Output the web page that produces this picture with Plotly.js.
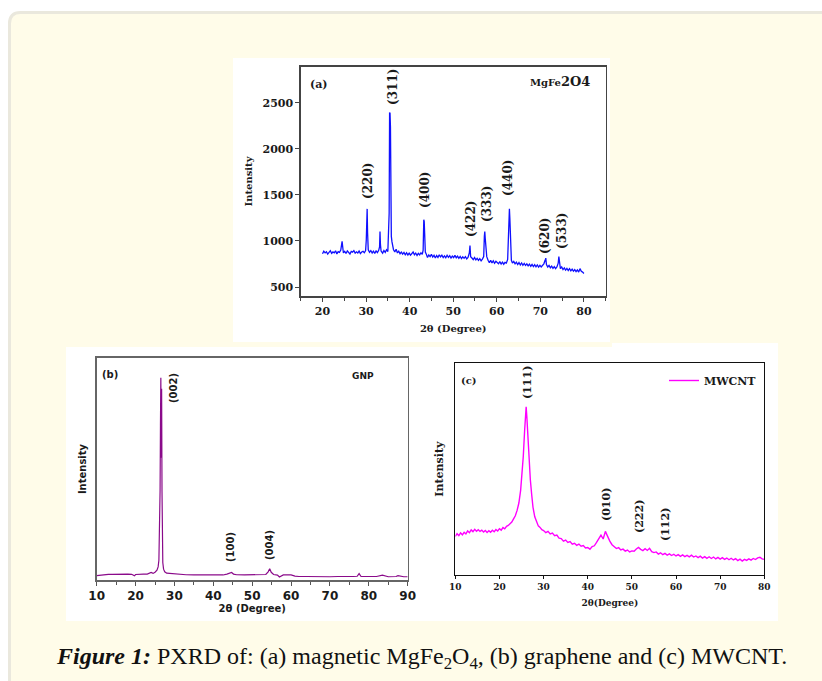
<!DOCTYPE html>
<html><head><meta charset="utf-8">
<script src="https://cdn.plot.ly/plotly-3.0.1.min.js"></script>
<style>html,body{margin:0;padding:0;background:#fff;}#chart{width:822px;height:681px;}</style>
</head><body><div id="chart"></div>
<script>
// ---------- data ----------
const mgfeX=[20.0,20.3,20.6,20.9,21.2,21.5,21.8,22.1,22.4,22.7,23.0,23.3,23.6,23.9,24.2,24.5,24.8,25.1,25.4,25.7,26.0,26.3,26.6,26.9,27.2,27.5,27.8,28.1,28.4,28.7,29.0,29.3,29.6,29.9,
30.05,30.15,30.25,30.35,30.5,30.8,31.1,31.4,31.7,32.0,32.3,32.6,32.9,33.1,33.2,33.3,33.45,33.8,34.1,34.4,34.7,35.0,35.2,35.3,35.4,35.5,35.6,35.7,35.8,35.95,36.1,36.3,36.6,36.9,37.2,37.5,37.8,38.1,38.4,38.7,39.0,39.3,39.6,39.9,40.2,40.5,40.8,41.1,41.4,41.7,42.0,42.3,42.6,42.9,43.1,43.25,43.35,43.45,43.6,43.8,44.1,44.4,44.7,45.0,45.3,45.6,45.9,46.2,46.5,46.8,47.1,47.4,47.7,48.0,48.3,48.6,48.9,49.2,49.5,49.8,50.1,50.4,50.7,51.0,51.3,51.6,51.9,52.2,52.5,52.8,53.1,53.4,53.7,53.85,54.0,54.3,54.6,54.9,55.2,55.5,55.8,56.1,56.4,56.7,57.0,57.15,57.25,57.35,57.5,57.7,58.0,58.3,58.6,58.9,59.2,59.5,59.8,60.1,60.4,60.7,61.0,61.3,61.6,61.9,62.2,62.5,62.65,62.75,62.9,63.0,63.1,63.2,63.35,63.6,63.9,64.2,64.5,64.8,65.1,65.4,65.7,66.0,66.3,66.6,66.9,67.2,67.5,67.8,68.1,68.4,68.7,69.0,69.3,69.6,69.9,70.2,70.5,70.8,71.1,71.25,71.4,71.7,72.0,72.3,72.6,72.9,73.2,73.5,73.8,74.1,74.25,74.4,74.6,74.9,75.2,75.5,75.8,76.1,76.4,76.7,77.0,77.3,77.6,77.9,78.2,78.5,78.8,79.1,79.4,79.7,80.0];
const mgfeY=[862,890,871,884,858,879,895,866,881,872,893,860,885,876,901,995,870,888,864,892,875,859,887,879,896,868,882,870,891,863,880,887,872,895,
1010,1150,1348,1090,905,878,896,870,889,866,893,874,899,935,1103,960,890,868,897,876,905,885,1100,1300,2392,2385,2240,1400,1050,990,930,905,882,910,870,889,862,880,858,876,850,872,848,868,846,862,880,851,869,843,866,849,872,855,900,1230,1210,1080,880,860,820,848,830,855,826,845,815,842,822,850,828,846,820,839,818,845,823,841,815,836,820,844,818,835,812,832,808,828,812,830,806,822,870,951,830,815,798,820,795,812,790,808,785,804,830,1050,1103,1030,960,830,790,765,790,762,784,758,779,770,752,776,750,771,748,768,760,800,1000,1340,1348,1250,1150,900,790,760,778,752,770,745,766,740,762,736,756,734,752,729,748,726,745,722,742,720,740,716,736,718,738,752,790,814,745,718,736,710,728,703,722,700,718,760,832,780,700,718,690,708,684,702,680,700,676,695,672,690,668,686,663,700,670,662,648];

const gnpX=[10,11,12,12.5,13,14,15,16,17,18,19,19.7,20,20.5,21,22,23,23.5,24,24.5,25,25.5,25.8,26.0,26.15,26.3,26.4,26.5,26.6,26.7,26.8,26.9,27.0,27.2,27.5,28,29,30,31,32,33,35,37,39,41,42.5,43.5,44.2,44.7,45.2,46,48,50,52,53.5,54.1,54.5,54.9,55.5,56.5,57,58,59,60,61,62,64,66,68,70,72,74,76,77,77.5,78,80,82,83.5,84,85,87,87.5,89,90];
const gnpY=[2.1,2.3,2.8,2.6,2.7,2.7,2.8,2.7,2.7,2.8,2.7,2.0,2.6,2.7,2.7,2.8,2.8,3.0,3.5,3.1,3.6,4.5,6.0,9,22,40,70,91,55,86,40,14,8,5.0,3.8,3.2,3.0,2.9,2.6,2.5,2.5,2.4,2.4,2.4,2.5,2.4,2.8,3.2,3.5,2.8,2.5,2.4,2.4,2.4,2.6,3.8,5.2,3.6,2.6,2.3,1.5,2.4,2.3,2.4,1.9,1.7,1.7,1.6,1.7,1.6,1.7,1.6,1.7,1.8,3.0,1.7,1.6,1.7,2.3,2.0,1.6,1.7,2.1,1.6,1.6];

const cntX=[10.0,10.4,10.8,11.2,11.6,12.0,12.4,12.8,13.2,13.6,14.0,14.4,14.8,15.2,15.6,16.0,16.4,16.8,17.2,17.6,18.0,18.4,18.8,19.2,19.6,20.0,20.4,20.8,21.2,21.6,22.0,22.4,22.8,23.2,23.6,24.0,24.4,24.8,25.1,25.4,25.7,25.9,26.05,26.2,26.4,26.6,26.8,27.0,27.3,27.6,28.0,28.4,28.8,29.2,29.6,30.0,
30.5,31.0,31.5,32.0,32.5,33.0,33.5,34.0,34.5,35.0,35.5,36.0,36.5,37.0,37.5,38.0,38.5,39.0,39.5,40.0,40.5,41.0,41.5,42.0,42.5,43.0,43.5,44.0,44.3,44.6,45.0,45.5,46.0,46.5,47.0,47.5,48.0,48.5,49.0,49.5,50.0,50.5,51.0,51.5,52.0,52.5,53.0,53.5,54.0,54.5,55.0,55.5,56.0,56.5,57.0,57.5,58.0,58.5,59.0,59.5,60.0,60.5,61.0,61.5,62.0,62.5,63.0,63.5,64.0,64.5,65.0,65.5,66.0,66.5,67.0,67.5,68.0,68.5,69.0,69.5,70.0,70.5,71.0,71.5,72.0,72.5,73.0,73.5,74.0,74.5,75.0,75.5,76.0,76.5,77.0,77.5,78.0,78.5,79.0,79.5,80.0];
const cntY=[18.2,19.5,18.6,19.9,19.0,20.2,19.4,20.8,20.0,21.3,20.5,21.6,20.7,21.4,20.6,21.2,20.3,21.0,20.1,20.9,20.2,21.1,20.4,21.5,20.8,21.9,21.2,22.4,21.8,23.0,23.4,24.3,25.0,26.5,28.0,30.5,34.0,40.0,46.5,56.0,68.0,76.0,79.5,75.0,66.0,57.0,50.0,45.0,38.0,32.0,27.5,25.0,23.2,22.5,21.4,21.0,
20.0,20.6,19.4,19.8,18.6,18.9,17.4,17.2,16.0,16.5,15.4,15.8,14.6,15.0,14.0,14.6,13.6,13.9,12.8,13.0,12.2,13.4,13.8,15.4,17.0,18.8,17.0,20.6,19.2,17.5,16.0,14.3,13.6,12.5,12.9,11.8,12.2,11.3,11.8,10.9,11.4,11.2,12.3,13.0,12.1,11.5,12.4,11.6,12.6,11.0,10.6,10.9,9.9,10.5,9.6,10.2,9.4,10.0,9.2,9.8,9.0,9.6,8.8,9.5,8.7,9.3,8.6,9.4,8.5,9.0,8.2,8.9,8.0,8.7,7.9,8.6,7.8,8.5,7.6,8.3,7.5,8.2,7.4,8.0,7.2,7.9,7.1,7.7,6.8,7.5,6.6,7.4,6.9,7.6,7.0,7.8,7.3,8.1,8.4,7.6,7.4];

const ticksA_x=[20,30,40,50,60,70,80];
const ticksA_y=[500,1000,1500,2000,2500];
const ticksB_x=[10,20,30,40,50,60,70,80,90];
const ticksC_x=[10,20,30,40,50,60,70,80];
const peaksA=['(220)','(311)','(400)','(422)','(333)','(440)','(620)','(533)'];
const peaksB=['(002)','(100)','(004)'];
const peaksC=['(111)','(010)','(222)','(112)'];

// ---------- layout helpers ----------
const W=822,H=681;
const px=v=>v/W, py=v=>1-v/H;
const SERIF='DejaVu Serif', SANS='DejaVu Sans';
const TXT='#1a1a1a';

// label pixel positions (layout)
const posA=[[368,181],[393,87],[425,190],[471,219],[487,204],[508,178],[545,236],[562,231]];
const posB=[[173,388],[230,547],[269,545]];
const posC=[[527,383],[606,505],[639,517],[665,525]];

const traces=[
 {x:mgfeX,y:mgfeY,xaxis:'x',yaxis:'y',type:'scatter',mode:'lines',line:{color:'#1010ff',width:1.3},showlegend:false,name:'MgFe2O4'},
 {x:gnpX,y:gnpY,xaxis:'x2',yaxis:'y2',type:'scatter',mode:'lines',line:{color:'#8a0a8a',width:1.2},showlegend:false,name:'GNP'},
 {x:cntX,y:cntY,xaxis:'x3',yaxis:'y3',type:'scatter',mode:'lines',line:{color:'#ff00ff',width:1.4},showlegend:true,name:'MWCNT'}
];

const ann=[];
function lab(t,p,fam,size,angle){ann.push({text:t,x:px(p[0]),y:py(p[1]),xref:'paper',yref:'paper',showarrow:false,xanchor:'center',yanchor:'middle',textangle:angle||0,font:{family:fam,size:size,color:TXT,weight:'bold'}});}
peaksA.forEach((t,i)=>lab(t,posA[i],SERIF,12,-90));
peaksB.forEach((t,i)=>lab(t,posB[i],SANS,10,-90));
peaksC.forEach((t,i)=>lab(t,posC[i],SERIF,11,-90));
lab('(a)',[319,85],SERIF,11);
lab("MgFe<span style='font-size:13px'>2O4</span>",[560,81],SERIF,10);
lab('(b)',[110,375],SANS,10);
lab('GNP',[363,376],SANS,9);
lab('(c)',[469,380],SERIF,10);
ann.push({text:'<b><i>Figure 1:</i></b> PXRD of: (a) magnetic MgFe<sub>2</sub>O<sub>4</sub>, (b) graphene and (c) MWCNT.',
 x:px(421),y:py(658),xref:'paper',yref:'paper',showarrow:false,xanchor:'center',yanchor:'middle',
 font:{family:'Liberation Serif',size:24,color:'#111'}});

// rounded cream box
const x0=9.5,y0=12.5,x1=840,y1=700,r=11;
const P=(x,y)=>px(x)+','+py(y);
const boxPath='M'+P(x0,y0+r)+' Q'+P(x0,y0)+' '+P(x0+r,y0)+' L'+P(x1,y0)+' L'+P(x1,y1)+' L'+P(x0,y1)+' Z';
const shapes=[
 {type:'path',path:boxPath,xref:'paper',yref:'paper',fillcolor:'#fffce9',line:{color:'#eae8dd',width:3},layer:'below'},
 {type:'rect',xref:'paper',yref:'paper',x0:px(233),x1:px(610),y0:py(58),y1:py(342),fillcolor:'#ffffff',line:{width:0},layer:'below'},
 {type:'rect',xref:'paper',yref:'paper',x0:px(66),x1:px(778),y0:py(347),y1:py(621),fillcolor:'#ffffff',line:{width:0},layer:'below'},
 {type:'rect',xref:'paper',yref:'paper',x0:px(612),x1:px(778),y0:py(343),y1:py(348),fillcolor:'#ffffff',line:{width:0},layer:'below'}
];

const tfA={family:SERIF,size:11,color:TXT,weight:'bold'};
const layout={
 width:W,height:H,margin:{l:0,r:0,t:0,b:0},paper_bgcolor:'#ffffff',plot_bgcolor:'#ffffff',
 shapes:shapes,annotations:ann,
 xaxis:{domain:[px(300.7),px(605.7)],anchor:'y',range:[15,85],tickvals:ticksA_x,ticks:'outside',ticklen:4,tickcolor:'#444',
   minor:{dtick:5,tick0:15,ticks:'outside',ticklen:3,tickcolor:'#444'},showline:true,mirror:true,linecolor:'#444',linewidth:1.3,showgrid:false,zeroline:false,
   tickfont:tfA,title:{text:'2θ (Degree)',font:{family:SERIF,size:10,color:TXT,weight:'bold'},standoff:8}},
 yaxis:{domain:[py(296.3),py(66.7)],anchor:'x',range:[400,2890],tickvals:ticksA_y,ticks:'outside',ticklen:4,tickcolor:'#444',
   showline:true,mirror:true,linecolor:'#444',linewidth:1.3,showgrid:false,zeroline:false,tickfont:tfA,
   title:{text:'Intensity',font:{family:SERIF,size:10,color:TXT,weight:'bold'},standoff:8}},
 xaxis2:{domain:[px(96.7),px(407.7)],anchor:'y2',range:[10,90],tickvals:ticksB_x,ticks:'outside',ticklen:4,tickcolor:'#555',
   minor:{dtick:5,tick0:10,ticks:'outside',ticklen:3,tickcolor:'#555'},showline:true,mirror:true,linecolor:'#666',linewidth:1.3,showgrid:false,zeroline:false,
   tickfont:{family:SANS,size:12,color:TXT,weight:'bold'},title:{text:'2θ (Degree)',font:{family:SANS,size:10,color:TXT,weight:'bold'},standoff:2}},
 yaxis2:{domain:[py(580.3),py(357.7)],anchor:'x2',range:[0,100],showticklabels:false,ticks:'',showline:true,mirror:true,linecolor:'#666',linewidth:1.3,showgrid:false,zeroline:false,
   title:{text:'Intensity',font:{family:SANS,size:10,color:TXT,weight:'bold'},standoff:7}},
 xaxis3:{domain:[px(455.3),px(764.3)],anchor:'y3',range:[10,80],tickvals:ticksC_x,ticks:'outside',ticklen:3,tickcolor:'#111',
   showline:true,mirror:true,linecolor:'#111',linewidth:1,showgrid:false,zeroline:false,
   tickfont:{family:SERIF,size:9,color:TXT,weight:'bold'},title:{text:'2θ(Degree)',font:{family:SERIF,size:9,color:TXT,weight:'bold'},standoff:8}},
 yaxis3:{domain:[py(575),py(363.3)],anchor:'x3',range:[0,100],showticklabels:false,ticks:'',showline:true,mirror:true,linecolor:'#111',linewidth:1,showgrid:false,zeroline:false,
   title:{text:'Intensity',font:{family:SERIF,size:11,color:TXT,weight:'bold'},standoff:8}},
 showlegend:true,
 legend:{x:px(664),xanchor:'left',y:py(366),yanchor:'top',bgcolor:'rgba(0,0,0,0)',borderwidth:0,
   font:{family:SERIF,size:11,color:TXT,weight:'bold'},itemwidth:30}
};
Plotly.newPlot('chart',traces,layout,{staticPlot:true,displayModeBar:false});
</script></body></html>
